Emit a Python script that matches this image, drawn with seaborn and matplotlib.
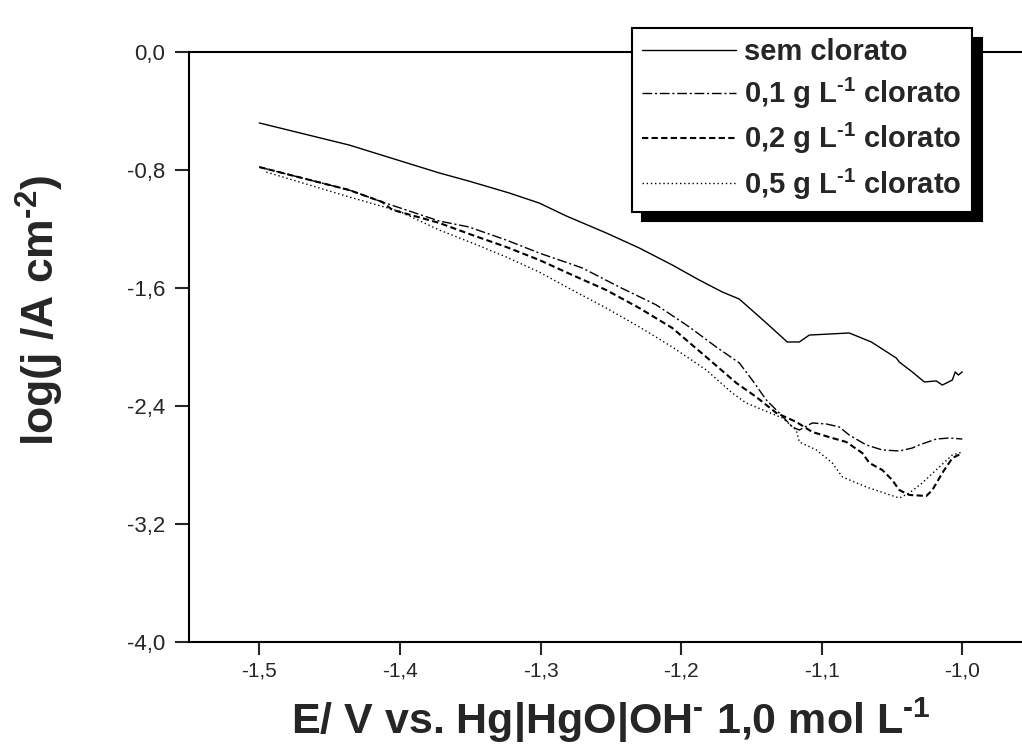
import numpy as np
import pandas as pd
import matplotlib
matplotlib.use("Agg")
import matplotlib.pyplot as plt
import seaborn as sns

# curves (E in V, log j)
e_sem = [-1.500, -1.436, -1.372, -1.351, -1.3222, -1.3009, -1.2816, -1.2532, -1.2297,
         -1.2063, -1.1871, -1.1707, -1.1586, -1.1394, -1.1245, -1.1159, -1.1088, -1.0804,
         -1.0647, -1.0469, -1.0448, -1.0356, -1.0270, -1.0185, -1.0142, -1.0071, -1.0050,
         -1.0028, -1.0000]
j_sem = [-0.481, -0.631, -0.820, -0.875, -0.956, -1.024, -1.112, -1.227, -1.329,
         -1.444, -1.546, -1.627, -1.675, -1.837, -1.966, -1.966, -1.919, -1.905,
         -1.966, -2.075, -2.102, -2.169, -2.237, -2.230, -2.258, -2.224, -2.169,
         -2.190, -2.169]

e_01 = [-1.500, -1.436, -1.4125, -1.372, -1.351, -1.3243, -1.3009, -1.2703, -1.2440,
        -1.2176, -1.1942, -1.1750, -1.1586, -1.1494, -1.1394, -1.1302, -1.1209, -1.1159,
        -1.1067, -1.0967, -1.0875, -1.0804, -1.0683, -1.0569, -1.0448, -1.0356, -1.0306,
        -1.0185, -1.0092, -1.0000]
j_01 = [-0.780, -0.936, -1.017, -1.146, -1.186, -1.275, -1.363, -1.464, -1.593,
        -1.715, -1.864, -2.000, -2.108, -2.224, -2.359, -2.447, -2.542, -2.563,
        -2.515, -2.522, -2.542, -2.597, -2.664, -2.698, -2.705, -2.685, -2.664,
        -2.624, -2.617, -2.624]

e_02 = [-1.500, -1.436, -1.4125, -1.4054, -1.372, -1.3485, -1.3243, -1.3009, -1.2774,
        -1.2532, -1.2297, -1.2063, -1.1821, -1.1607, -1.1465, -1.1323, -1.1181, -1.1067,
        -1.0925, -1.0825, -1.0711, -1.0661, -1.0569, -1.0498, -1.0448, -1.0377, -1.0256,
        -1.0213, -1.0142, -1.0071, -1.0000]
j_02 = [-0.780, -0.936, -1.017, -1.070, -1.159, -1.241, -1.322, -1.410, -1.512,
        -1.614, -1.736, -1.871, -2.068, -2.244, -2.339, -2.447, -2.508, -2.576,
        -2.617, -2.644, -2.719, -2.786, -2.834, -2.902, -2.970, -3.003, -3.010,
        -2.970, -2.854, -2.753, -2.719]

e_05 = [-1.495, -1.436, -1.4004, -1.372, -1.3485, -1.3243, -1.3009, -1.2774, -1.2532,
        -1.2297, -1.2063, -1.1821, -1.1636, -1.1536, -1.1280, -1.1181, -1.1159, -1.1038,
        -1.0925, -1.0853, -1.0683, -1.0448, -1.0377, -1.0285, -1.0164, -1.0071, -1.0000]
j_05 = [-0.814, -0.983, -1.080, -1.207, -1.295, -1.390, -1.492, -1.614, -1.736,
        -1.864, -2.000, -2.156, -2.312, -2.380, -2.481, -2.563, -2.644, -2.698,
        -2.786, -2.881, -2.949, -3.024, -2.990, -2.922, -2.814, -2.732, -2.712]

labels = ["sem clorato",
          r"0,1 g L$^{\text{-1}}$ clorato",
          r"0,2 g L$^{\text{-1}}$ clorato",
          r"0,5 g L$^{\text{-1}}$ clorato"]
y_ticks = [0.0, -0.8, -1.6, -2.4, -3.2, -4.0]
x_ticks = [-1.5, -1.4, -1.3, -1.2, -1.1, -1.0]

sns.set_style("ticks")
plt.rcParams['font.family'] = ['Liberation Sans', 'DejaVu Sans']
plt.rcParams['mathtext.fontset'] = 'custom'
plt.rcParams['mathtext.rm'] = 'Liberation Sans:bold'
plt.rcParams['mathtext.bf'] = 'Liberation Sans:bold'
plt.rcParams['mathtext.default'] = 'rm'
plt.rcParams['axes.unicode_minus'] = False

frames = []
for lab, e, j in zip(labels, [e_sem, e_01, e_02, e_05], [j_sem, j_01, j_02, j_05]):
    frames.append(pd.DataFrame({'E': e, 'logj': j, 'serie': lab}))
df = pd.concat(frames, ignore_index=True)

fig = plt.figure(figsize=(10.22, 7.51), dpi=100)
ax = fig.add_axes([189 / 1022, 109 / 751, 843.6 / 1022, 590 / 751])

dash_map = {labels[0]: "", labels[1]: (7, 2, 1.5, 2), labels[2]: (3, 1.6), labels[3]: (1, 2)}
sns.lineplot(data=df, x='E', y='logj', hue='serie', style='serie',
             palette=['black'] * 4, dashes=dash_map, sort=False,
             estimator=None, linewidth=1.0, ax=ax, legend=False)
ax.lines[2].set_linewidth(1.5)

ax.set_xlim(-1.55, -0.95)
ax.set_ylim(-4.0, 0.0)
ax.set_xticks(x_ticks)
ax.set_xticklabels([f"{v:.1f}".replace('.', ',') for v in x_ticks])
ax.set_yticks(y_ticks)
ax.set_yticklabels([f"{v:.1f}".replace('.', ',') for v in y_ticks])
ax.tick_params(axis='y', direction='out', length=10, width=1.5, pad=7, labelsize=16)
ax.tick_params(axis='x', direction='out', length=9, width=1.5, pad=5, labelsize=15)
for s in ['left', 'bottom', 'top']:
    ax.spines[s].set_linewidth(1.5)
    ax.spines[s].set_color('black')
ax.spines['right'].set_visible(False)

ax.set_xlabel(r"E/ V vs. Hg|HgO|OH$^{\text{-}}$ 1,0 mol L$^{\text{-1}}$", fontsize=31,
              fontweight='bold', labelpad=11)
ax.set_ylabel(r"log(j /A cm$^{\text{-2}}$)", fontsize=32, fontweight='bold')
ax.yaxis.set_label_coords(-(189 - 66) / 843.6, 0.5 + (52 + 590 / 2 - 310) / 590)

handles = ax.lines[:4]
leg = fig.legend(handles, labels, loc='upper left', bbox_to_anchor=(632 / 1022, 1 - 28 / 751),
                 prop={'weight': 'bold', 'size': 21}, frameon=True,
                 fancybox=False, edgecolor='black', handlelength=3.2, handletextpad=0.3,
                 borderpad=0.35, labelspacing=0.34, borderaxespad=0,
                 shadow={'ox': 7, 'oy': -7, 'color': 'black', 'alpha': 1})
leg.get_frame().set_linewidth(1.5)

fig.savefig('out.png', dpi=100)
